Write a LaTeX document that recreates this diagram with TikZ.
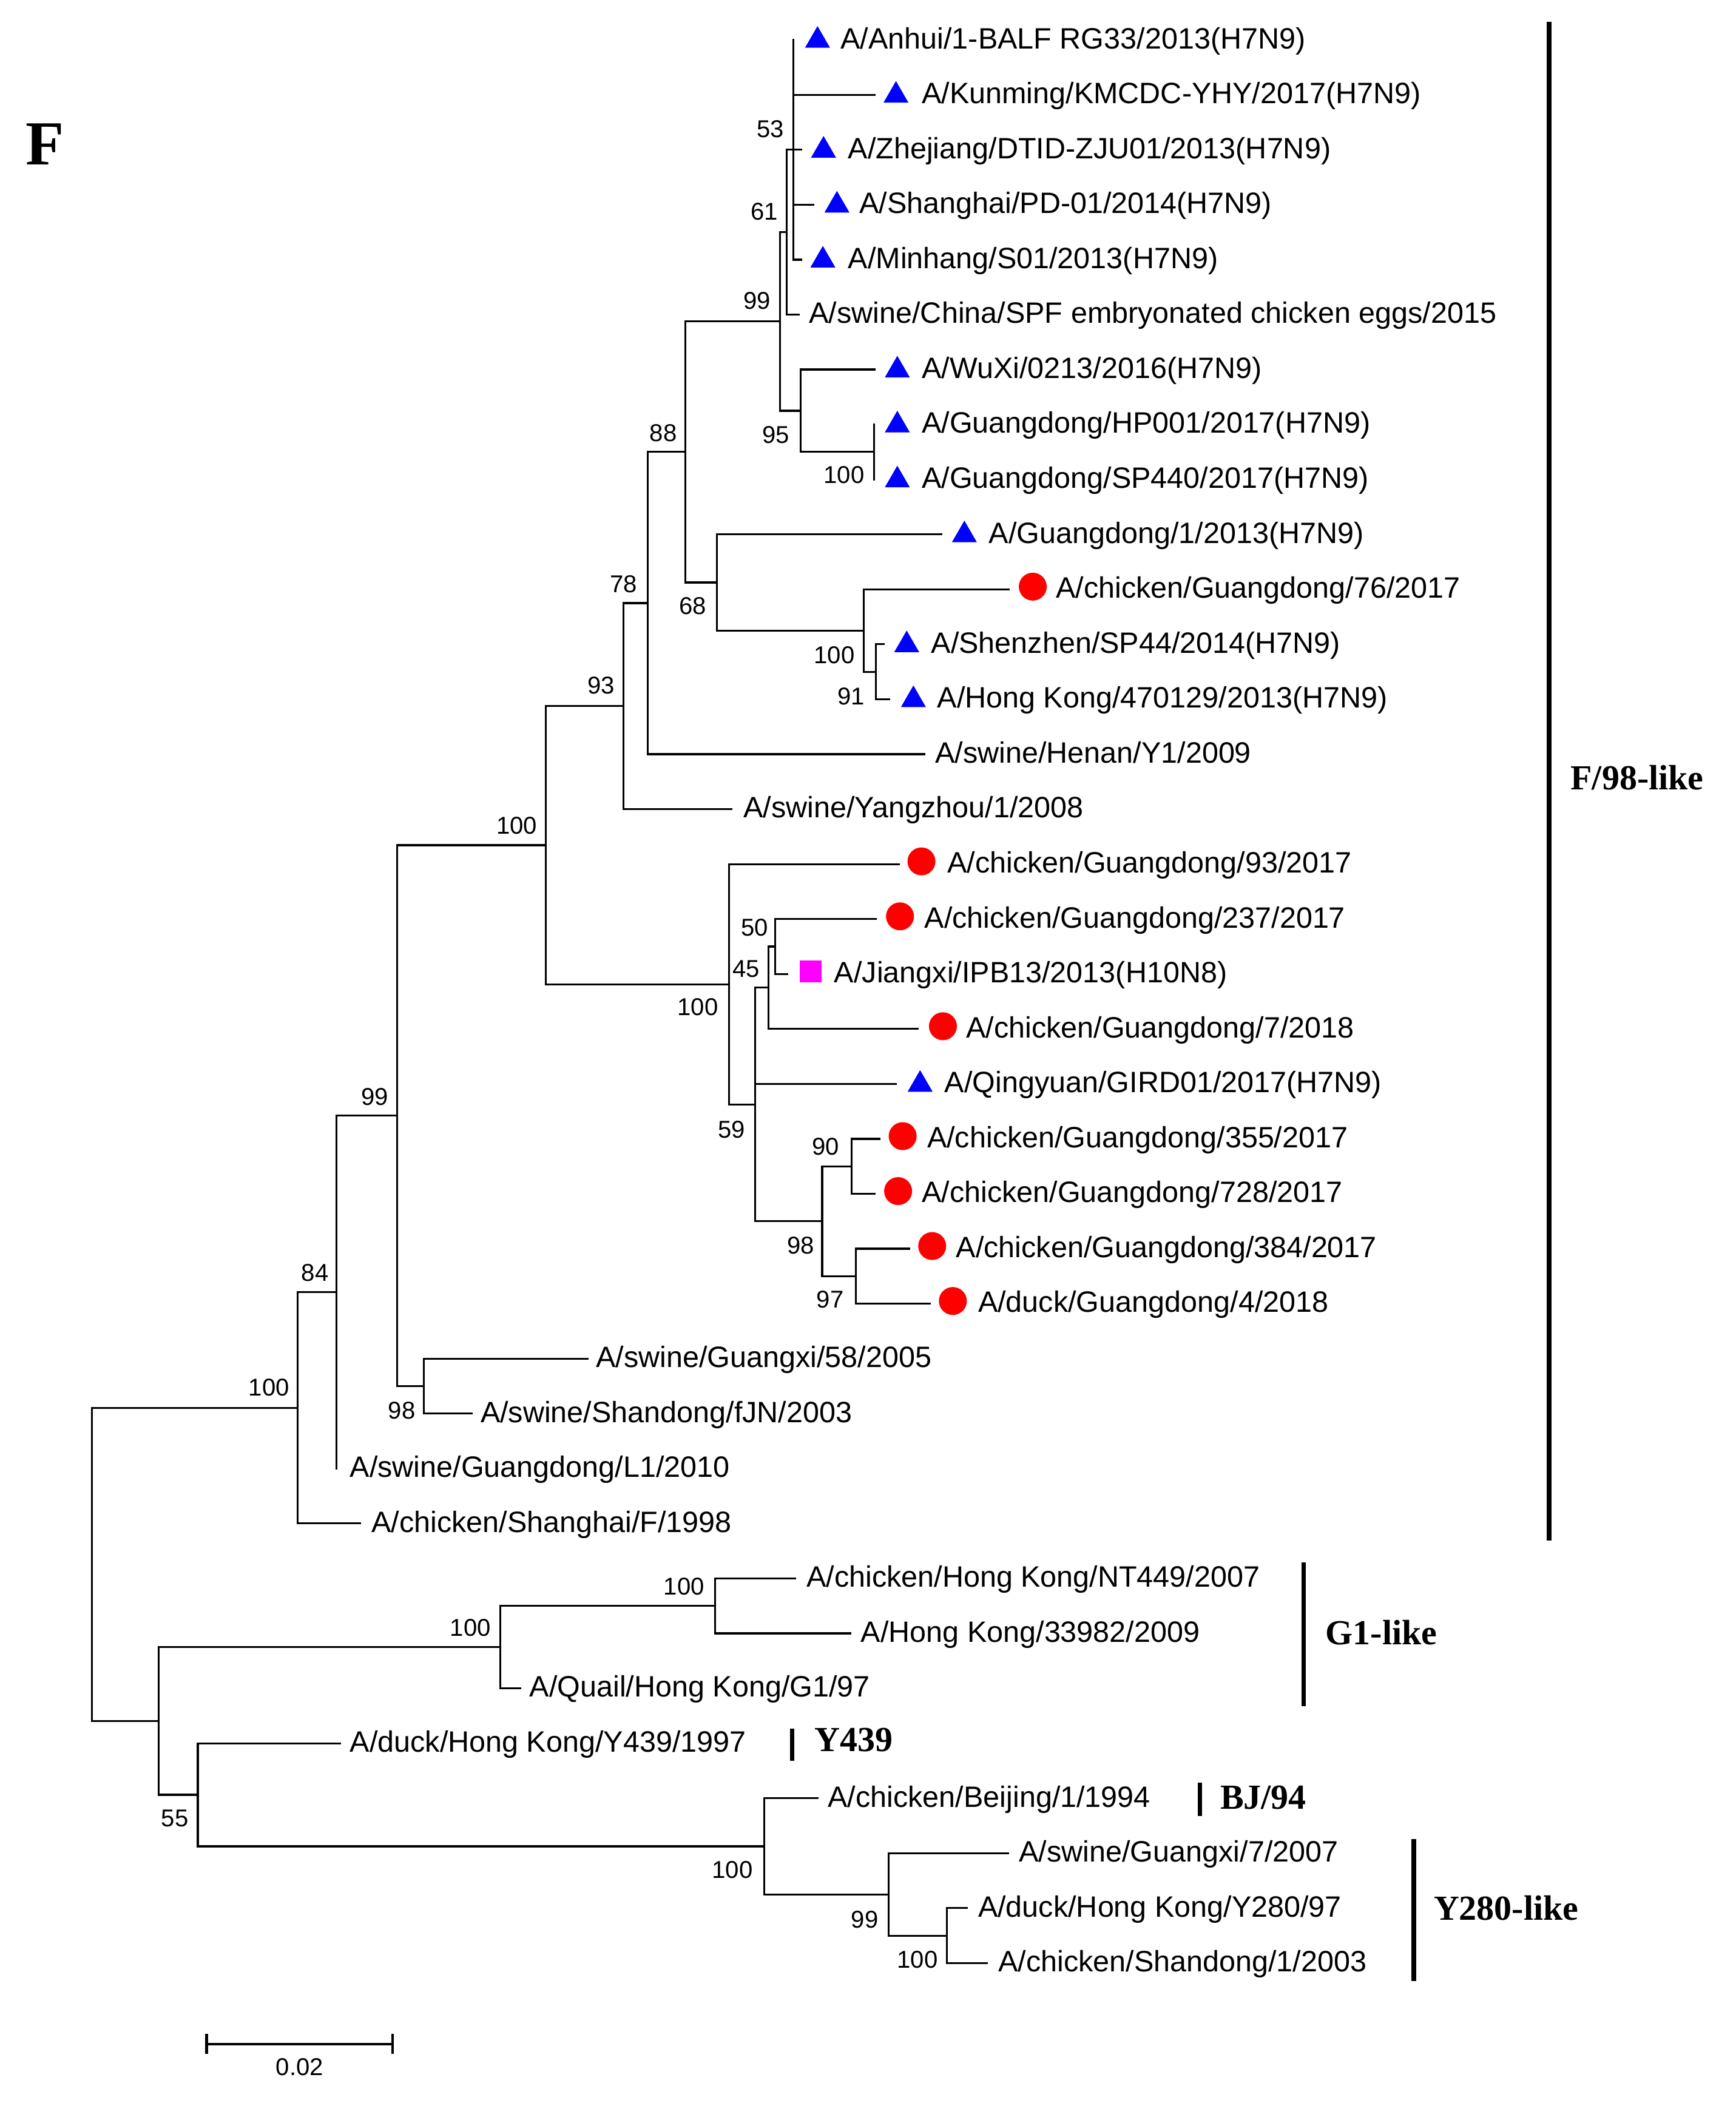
\documentclass[tikz,border=0pt]{standalone}
\usepackage{fontspec}
\setmainfont{Liberation Sans}
\newfontfamily\cladefont{Liberation Serif}
\usetikzlibrary{shapes.geometric}
\definecolor{mag}{RGB}{255,0,255}
\definecolor{tblue}{RGB}{0,0,255}
\definecolor{tred}{RGB}{255,0,0}
\pgfmathdeclarefunction{R}{1}{\pgfmathparse{29.7+40.97*#1}}
\tikzset{
  br/.style={line width=0.9pt, line cap=rect},
  leaf/.style={anchor=base west, inner sep=0pt, font=\fontsize{13.8}{16}\selectfont},
  boot/.style={anchor=center, inner sep=0pt, font=\fontsize{11.4}{13}\selectfont},
  clade/.style={anchor=base west, inner sep=0pt, font=\cladefont\bfseries\fontsize{16.5}{19}\selectfont},
  cbar/.style={line width=2.1pt},
  sbar/.style={line width=1.2pt},
  tri/.style={regular polygon, regular polygon sides=3, fill=tblue, inner sep=0pt, minimum size=0.475cm},
  dot/.style={circle, fill=tred, inner sep=0pt, minimum size=0.46cm},
  sq/.style={rectangle, fill=mag, inner sep=0pt, minimum size=0.36cm},
}
\begin{document}
\begin{tikzpicture}[x=0.022102cm, y=-0.022102cm]
\useasboundingbox (0,0) rectangle (1294,1568);

% ---------- internal nodes ----------
\coordinate (n53) at (591.6,{R(2)});
\coordinate (n61) at (586.7,{R(3.5)});
\coordinate (nHP) at (651.7,{R(7.5)});
\coordinate (n95) at (596.8,{R(6.75)});
\coordinate (n99a) at (581.4,{R(5.125)});
\coordinate (n91) at (653,{R(11.5)});
\coordinate (n100b) at (644,{R(10.75)});
\coordinate (n68) at (534.4,{R(9.875)});
\coordinate (n88) at (511,{R(7.5)});
\coordinate (n78) at (483,{R(10.25)});
\coordinate (n93) at (465,{R(12.125)});
\coordinate (n50) at (578,{R(16.5)});
\coordinate (n45) at (573,{R(17.25)});
\coordinate (n90) at (635,{R(20.5)});
\coordinate (n97) at (638,{R(22.5)});
\coordinate (n98a) at (613,{R(21.5)});
\coordinate (n59) at (563,{R(19.375)});
\coordinate (n100c) at (543.7,{R(17.1875)});
\coordinate (n100m) at (407,{R(14.65625)});
\coordinate (n98s) at (316,{R(24.5)});
\coordinate (n99b) at (296,{R(19.578125)});
\coordinate (n84) at (251,{R(22.7890625)});
\coordinate (n100r) at (222,{R(24.89453125)});
\coordinate (nG1in) at (533,{R(28.5)});
\coordinate (nG1out) at (373,{R(29.25)});
\coordinate (nY280in) at (706,{R(34.5)});
\coordinate (nY280) at (662.5,{R(33.75)});
\coordinate (nBJ) at (569.6,{R(32.875)});
\coordinate (n55) at (147.5,{R(31.9375)});
\coordinate (nX) at (118.4,{R(30.59375)});
\coordinate (root) at (68.7,{R(27.744140625)});

% ---------- leaf tips ----------
\coordinate (l0) at (591.6,{R(0)});
\coordinate (l1) at (652,{R(1)});
\coordinate (l2) at (597.2,{R(2)});
\coordinate (l3) at (606.3,{R(3)});
\coordinate (l4) at (597.2,{R(4)});
\coordinate (l5) at (595.7,{R(5)});
\coordinate (l6) at (652,{R(6)});
\coordinate (l7) at (651.7,{R(7)});
\coordinate (l8) at (651.7,{R(8)});
\coordinate (l9) at (702,{R(9)});
\coordinate (l10) at (752,{R(10)});
\coordinate (l11) at (659,{R(11)});
\coordinate (l12) at (663,{R(12)});
\coordinate (l13) at (689,{R(13)});
\coordinate (l14) at (545.5,{R(14)});
\coordinate (l15) at (670,{R(15)});
\coordinate (l16) at (653,{R(16)});
\coordinate (l17) at (587,{R(17)});
\coordinate (l18) at (684,{R(18)});
\coordinate (l19) at (668,{R(19)});
\coordinate (l20) at (655.6,{R(20)});
\coordinate (l21) at (652,{R(21)});
\coordinate (l22) at (677.7,{R(22)});
\coordinate (l23) at (693.4,{R(23)});
\coordinate (l24) at (438,{R(24)});
\coordinate (l25) at (351.5,{R(25)});
\coordinate (l26) at (251,{R(26)});
\coordinate (l27) at (268.6,{R(27)});
\coordinate (l28) at (593,{R(28)});
\coordinate (l29) at (634,{R(29)});
\coordinate (l30) at (388,{R(30)});
\coordinate (l31) at (253.7,{R(31)});
\coordinate (l32) at (609.5,{R(32)});
\coordinate (l33) at (751.5,{R(33)});
\coordinate (l34) at (721,{R(34)});
\coordinate (l35) at (736,{R(35)});

% ---------- branches ----------
\foreach \p/\c in {n53/l0,n53/l1,n53/l2,n53/l3,n53/l4,
  n61/n53,n61/l5,n99a/n61,n99a/n95,n95/l6,n95/nHP,nHP/l7,nHP/l8,
  n88/n99a,n88/n68,n68/l9,n68/n100b,n100b/l10,n100b/n91,n91/l11,n91/l12,
  n78/n88,n78/l13,n93/n78,n93/l14,n100m/n93,n100m/n100c,
  n100c/l15,n100c/n59,n59/n45,n59/l19,n59/n98a,n45/n50,n45/l18,n50/l16,n50/l17,
  n98a/n90,n98a/n97,n90/l20,n90/l21,n97/l22,n97/l23,
  n99b/n100m,n99b/n98s,n98s/l24,n98s/l25,n84/n99b,n84/l26,n100r/n84,n100r/l27,
  root/n100r,root/nX,nX/nG1out,nX/n55,nG1out/nG1in,nG1out/l30,nG1in/l28,nG1in/l29,
  n55/l31,n55/nBJ,nBJ/l32,nBJ/nY280,nY280/l33,nY280/nY280in,nY280in/l34,nY280in/l35}
  \draw[br] (\p) |- (\c);

% ---------- markers ----------
\node[tri] (m0) at (609.5,{R(0)+0.5}) {};
\node[tri] (m1) at (668,{R(1)+0.5}) {};
\node[tri] (m2) at (614,{R(2)+0.5}) {};
\node[tri] (m3) at (624,{R(3)+0.5}) {};
\node[tri] (m4) at (613.5,{R(4)+0.5}) {};
\node[tri] (m6) at (669,{R(6)+0.5}) {};
\node[tri] (m7) at (669,{R(7)+0.5}) {};
\node[tri] (m8) at (669,{R(8)+0.5}) {};
\node[tri] (m9) at (719,{R(9)+0.5}) {};
\node[dot] (m10) at (770,{R(10)-2}) {};
\node[tri] (m11) at (676,{R(11)+0.5}) {};
\node[tri] (m12) at (681,{R(12)+0.5}) {};
\node[dot] (m15) at (687,{R(15)-2}) {};
\node[dot] (m16) at (671,{R(16)-2}) {};
\node[sq] (m17) at (604.5,{R(17)-1.7}) {};
\node[dot] (m18) at (703,{R(18)-2}) {};
\node[tri] (m19) at (686,{R(19)+0.5}) {};
\node[dot] (m20) at (673,{R(20)-2}) {};
\node[dot] (m21) at (669.6,{R(21)-2}) {};
\node[dot] (m22) at (695,{R(22)-2}) {};
\node[dot] (m23) at (710.4,{R(23)-2}) {};

% ---------- leaf labels ----------
\node[leaf] (t0) at (626.5,{R(0)+6.5}) {A/Anhui/1-BALF RG33/2013(H7N9)};
\node[leaf] (t1) at (687,{R(1)+6.5}) {A/Kunming/KMCDC-YHY/2017(H7N9)};
\node[leaf] (t2) at (632,{R(2)+6.5}) {A/Zhejiang/DTID-ZJU01/2013(H7N9)};
\node[leaf] (t3) at (640.5,{R(3)+6.5}) {A/Shanghai/PD-01/2014(H7N9)};
\node[leaf] (t4) at (632,{R(4)+6.5}) {A/Minhang/S01/2013(H7N9)};
\node[leaf] (t5) at (603,{R(5)+6.5}) {A/swine/China/SPF embryonated chicken eggs/2015};
\node[leaf] (t6) at (687,{R(6)+6.5}) {A/WuXi/0213/2016(H7N9)};
\node[leaf] (t7) at (687,{R(7)+6.5}) {A/Guangdong/HP001/2017(H7N9)};
\node[leaf] (t8) at (687,{R(8)+6.5}) {A/Guangdong/SP440/2017(H7N9)};
\node[leaf] (t9) at (737,{R(9)+6.5}) {A/Guangdong/1/2013(H7N9)};
\node[leaf] (t10) at (787,{R(10)+6.5}) {A/chicken/Guangdong/76/2017};
\node[leaf] (t11) at (694,{R(11)+6.5}) {A/Shenzhen/SP44/2014(H7N9)};
\node[leaf] (t12) at (698.5,{R(12)+6.5}) {A/Hong Kong/470129/2013(H7N9)};
\node[leaf] (t13) at (697,{R(13)+6.5}) {A/swine/Henan/Y1/2009};
\node[leaf] (t14) at (554,{R(14)+6.5}) {A/swine/Yangzhou/1/2008};
\node[leaf] (t15) at (706,{R(15)+6.5}) {A/chicken/Guangdong/93/2017};
\node[leaf] (t16) at (689,{R(16)+6.5}) {A/chicken/Guangdong/237/2017};
\node[leaf] (t17) at (621.7,{R(17)+6.5}) {A/Jiangxi/IPB13/2013(H10N8)};
\node[leaf] (t18) at (720,{R(18)+6.5}) {A/chicken/Guangdong/7/2018};
\node[leaf] (t19) at (704,{R(19)+6.5}) {A/Qingyuan/GIRD01/2017(H7N9)};
\node[leaf] (t20) at (691,{R(20)+6.5}) {A/chicken/Guangdong/355/2017};
\node[leaf] (t21) at (687,{R(21)+6.5}) {A/chicken/Guangdong/728/2017};
\node[leaf] (t22) at (712.5,{R(22)+6.5}) {A/chicken/Guangdong/384/2017};
\node[leaf] (t23) at (729,{R(23)+6.5}) {A/duck/Guangdong/4/2018};
\node[leaf] (t24) at (444,{R(24)+6.5}) {A/swine/Guangxi/58/2005};
\node[leaf] (t25) at (358,{R(25)+6.5}) {A/swine/Shandong/fJN/2003};
\node[leaf] (t26) at (260.6,{R(26)+6.5}) {A/swine/Guangdong/L1/2010};
\node[leaf] (t27) at (276.7,{R(27)+6.5}) {A/chicken/Shanghai/F/1998};
\node[leaf] (t28) at (601,{R(28)+6.5}) {A/chicken/Hong Kong/NT449/2007};
\node[leaf] (t29) at (641.6,{R(29)+6.5}) {A/Hong Kong/33982/2009};
\node[leaf] (t30) at (394.5,{R(30)+6.5}) {A/Quail/Hong Kong/G1/97};
\node[leaf] (t31) at (260.6,{R(31)+6.5}) {A/duck/Hong Kong/Y439/1997};
\node[leaf] (t32) at (617,{R(32)+6.5}) {A/chicken/Beijing/1/1994};
\node[leaf] (t33) at (759.5,{R(33)+6.5}) {A/swine/Guangxi/7/2007};
\node[leaf] (t34) at (729,{R(34)+6.5}) {A/duck/Hong Kong/Y280/97};
\node[leaf] (t35) at (744,{R(35)+6.5}) {A/chicken/Shandong/1/2003};

% ---------- bootstrap values ----------
\node[boot] (b53) at (574.3,96.2) {53};
\node[boot] (b61) at (569.7,157.6) {61};
\node[boot] (b99a) at (564.3,224.3) {99};
\node[boot] (b95) at (578.5,324) {95};
\node[boot] (b100hp) at (629.3,354) {100};
\node[boot] (b88) at (494.5,322.7) {88};
\node[boot] (b78) at (465,435.7) {78};
\node[boot] (b68) at (516.6,451.7) {68};
\node[boot] (b100b) at (622,488.3) {100};
\node[boot] (b91) at (634.6,519) {91};
\node[boot] (b93) at (448,511) {93};
\node[boot] (b100m) at (385.3,615.5) {100};
\node[boot] (b50) at (562.6,691.4) {50};
\node[boot] (b45) at (556.4,722.3) {45};
\node[boot] (b100c) at (520.3,751) {100};
\node[boot] (b59) at (545.5,842) {59};
\node[boot] (b90) at (615.6,855) {90};
\node[boot] (b98a) at (597,928.5) {98};
\node[boot] (b97) at (619,969) {97};
\node[boot] (b99b) at (279.5,817.8) {99};
\node[boot] (b84) at (234.8,949) {84};
\node[boot] (b100r) at (200.6,1034.7) {100};
\node[boot] (b98s) at (299.6,1051.6) {98};
\node[boot] (b100g1in) at (510,1183) {100};
\node[boot] (b100g1out) at (350.8,1213.5) {100};
\node[boot] (b55) at (130.3,1355.8) {55};
\node[boot] (b100bj) at (546,1394) {100};
\node[boot] (b99y) at (644.7,1431) {99};
\node[boot] (b100y) at (684,1461) {100};

% ---------- clade bars and names ----------
\coordinate (f98a) at (1155,16.2);
\coordinate (f98b) at (1155,1148.5);
\draw[cbar] (f98a) -- (f98b);
\node[clade] (cf98) at (1170.7,588.7) {F/98-like};

\coordinate (g1a) at (972,1165);
\coordinate (g1b) at (972,1272);
\draw[cbar] (g1a) -- (g1b);
\node[clade] (cg1) at (988,1226.3) {G1-like};

\coordinate (y439a) at (590.6,1289);
\coordinate (y439b) at (590.6,1313);
\draw[cbar] (y439a) -- (y439b);
\node[clade] (cy439) at (607,1305.7) {Y439};

\coordinate (bja) at (894.7,1329);
\coordinate (bjb) at (894.7,1354);
\draw[cbar] (bja) -- (bjb);
\node[clade] (cbj) at (909.5,1348.7) {BJ/94};

\coordinate (y280a) at (1054,1371);
\coordinate (y280b) at (1054,1477);
\draw[cbar] (y280a) -- (y280b);
\node[clade] (cy280) at (1068.7,1431.7) {Y280-like};

% ---------- panel letter ----------
\node[anchor=base west, inner sep=0pt, font=\cladefont\bfseries\fontsize{29.4}{32}\selectfont] (panel) at (18.9,123) {F};

% ---------- scale bar ----------
\coordinate (sb1) at (154,1524);
\coordinate (sb2) at (292.6,1524);
\draw[sbar] (sb1) -- (sb2);
\draw[sbar] ([yshift=0.165cm]sb1) -- ([yshift=-0.165cm]sb1);
\draw[sbar] ([yshift=0.165cm]sb2) -- ([yshift=-0.165cm]sb2);
\node[boot] (sbl) at (223.4,1541) {0.02};
\end{tikzpicture}
\end{document}
